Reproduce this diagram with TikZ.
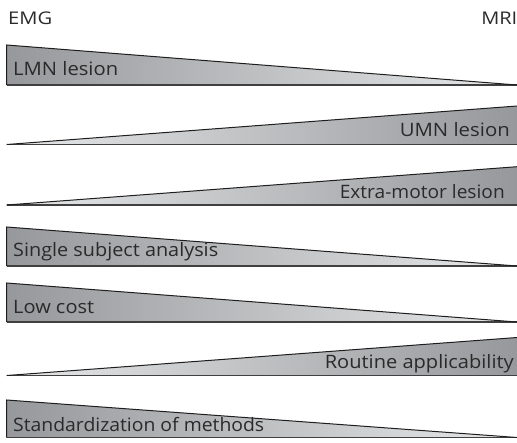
\documentclass[tikz,border=0pt]{standalone}
\usepackage{graphicx}
\usepackage{fontspec}
\setmainfont{Open Sans}
\definecolor{gdark}{HTML}{97989B}
\definecolor{gmid}{HTML}{D0D1D3}
\definecolor{glight}{HTML}{E7E8E9}
\definecolor{edge}{HTML}{1E1E1E}
\definecolor{txt}{HTML}{2A2A2A}
\tikzset{
  wedgeline/.style={draw=edge, line width=1pt, line join=miter},
  baseline/.style={draw=black!75, line width=1.6pt},
  lbl/.style={font=\fontsize{18.5}{20}\selectfont, text=txt, inner sep=0pt},
  head/.style={font=\fontsize{17.5}{19}\selectfont, text=txt, inner sep=0pt},
}
\newcommand\fitw[2]{\resizebox{#1pt}{\height}{#2}}
\newcommand\leftwedge[2]{%
  \shade[left color=gdark, middle color=gmid, right color=glight] (6.7,#1) -- (517,#2) -- (6.7,#2) -- cycle;
  \draw[baseline] (6.7,#2) -- (517,#2);
  \draw[wedgeline] (6.7,#2) -- (6.7,#1) -- (517,#2);
}
\newcommand\rightwedge[2]{%
  \shade[left color=glight, middle color=gmid, right color=gdark] (6.7,#2) -- (517,#1) -- (517,#2) -- cycle;
  \draw[baseline] (6.7,#2) -- (517,#2);
  \draw[wedgeline] (6.7,#2) -- (517,#1);
}
\begin{document}
\begin{tikzpicture}[x=1pt,y=-1pt]
\useasboundingbox (0,0) rectangle (517,442);
\node[head, anchor=base west] (emg) at (8,24) {\fitw{44}{EMG}};
\node[head, anchor=base east] (mri) at (517.5,24) {\fitw{36}{MRI}};
\leftwedge{45}{85}
\node[lbl, anchor=base west] (lmn) at (13,75.5) {\fitw{105}{LMN lesion}};
\rightwedge{106}{144.5}
\node[lbl, anchor=base east] (umn) at (510,136) {\fitw{110}{UMN lesion}};
\rightwedge{166.7}{205}
\node[lbl, anchor=base east] (extra) at (505,198.5) {\fitw{165}{Extra-motor lesion}};
\leftwedge{227}{266}
\node[lbl, anchor=base west] (single) at (13,256.5) {\fitw{205}{Single subject analysis}};
\leftwedge{283}{322}
\node[lbl, anchor=base west] (cost) at (13,313.5) {\fitw{81}{Low cost}};
\rightwedge{337.5}{375.5}
\node[lbl, anchor=base east] (routine) at (514,368) {\fitw{189}{Routine applicability}};
\leftwedge{400}{437.5}
\node[lbl, anchor=base west] (std) at (13,431.5) {\fitw{251}{Standardization of methods}};
\end{tikzpicture}
\end{document}
